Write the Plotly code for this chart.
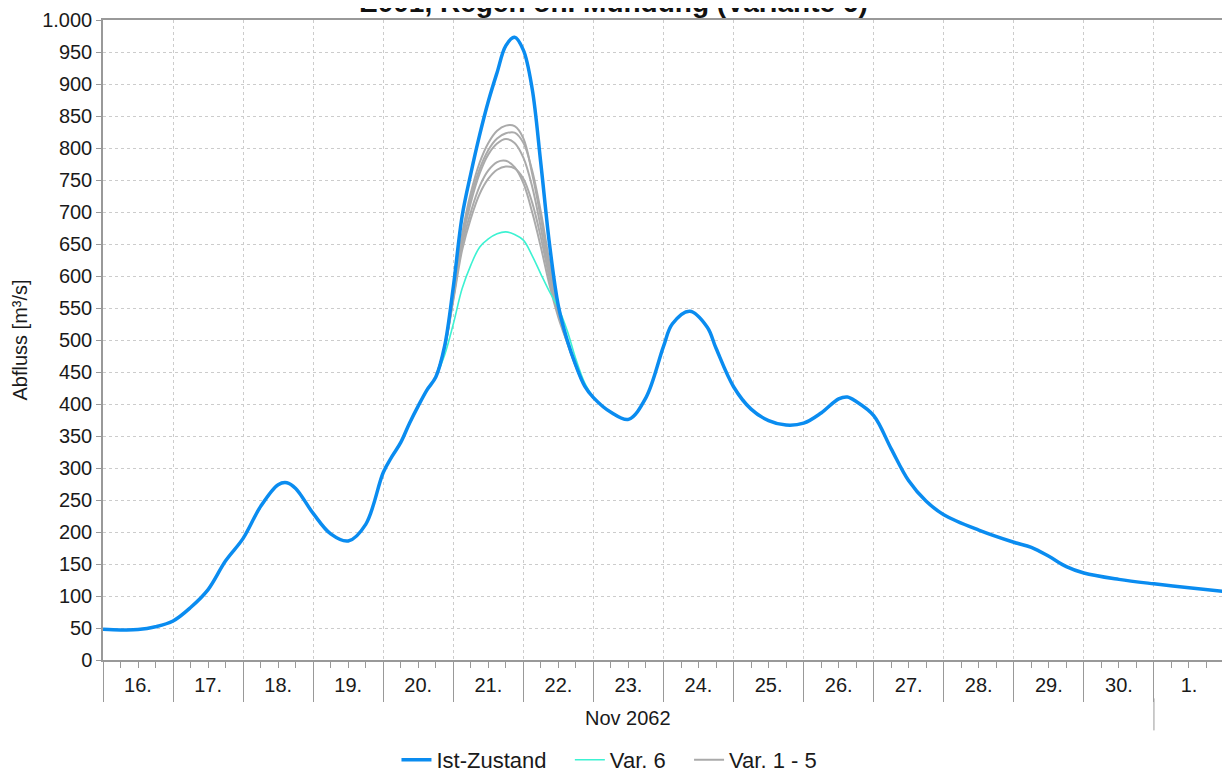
import pandas as pd
import plotly.graph_objects as go

# ---- data (day of November 2062, fractional; 32.0 = 2 Dec 00:00) ----
ist_days = [16.0, 16.25, 16.5, 16.75, 17.0, 17.25, 17.5, 17.75, 18.0, 18.25, 18.5, 18.625, 18.75,
            19.0, 19.25, 19.5, 19.75, 20.0, 20.125, 20.25, 20.375, 20.5, 20.625, 20.75, 20.875,
            21.0, 21.125, 21.25, 21.375, 21.5, 21.625, 21.75, 21.875, 22.0, 22.125, 22.25,
            22.375, 22.5, 22.625, 22.75, 22.875, 23.0, 23.25, 23.5, 23.75, 24.0, 24.125, 24.375,
            24.625, 24.75, 25.0, 25.25, 25.5, 25.75, 26.0, 26.25, 26.5, 26.625, 26.75, 27.0,
            27.25, 27.5, 27.75, 28.0, 28.5, 29.0, 29.25, 29.5, 29.75, 30.0, 30.5, 31.0, 31.5, 32.0]
ist_vals = [48, 47, 47.5, 52, 61, 82, 110, 155, 190, 240, 274, 277, 268,
            229, 197, 186, 212, 293, 318, 340, 370, 397, 422, 442, 490,
            583, 693, 760, 820, 873, 918, 960, 973, 953, 893, 775,
            648, 553, 500, 460, 428, 410, 387, 376, 410, 490, 525, 545,
            520, 487, 427, 392, 374, 367, 370, 386, 408, 411, 404, 382,
            330, 280, 248, 227, 203, 184, 176, 162, 146, 136, 126, 119, 113, 107]

var_days = [20.75, 20.875, 21.0, 21.125, 21.25, 21.375, 21.5, 21.625, 21.75, 21.875,
            22.0, 22.125, 22.25, 22.375, 22.5, 22.625, 22.75, 22.875, 23.0]
var6_vals = [442, 476, 525, 580, 617, 645, 658, 666, 669, 665,
             656, 632, 603, 575, 550, 515, 470, 433, 410]
var1_vals = [442, 488, 572, 665, 730, 777, 808, 827, 835, 834,
             815, 760, 690, 610, 545, 500, 460, 428, 410]
var2_vals = [442, 488, 570, 660, 722, 767, 797, 815, 823, 824,
             808, 765, 700, 620, 548, 500, 460, 428, 410]
var3_vals = [442, 488, 568, 655, 715, 760, 790, 807, 814, 808,
             785, 740, 675, 600, 540, 497, 459, 428, 410]
var4_vals = [442, 487, 565, 648, 700, 740, 765, 778, 780, 770,
             745, 700, 645, 585, 535, 496, 458, 428, 410]
var5_vals = [442, 487, 562, 640, 690, 728, 752, 766, 771, 768,
             752, 715, 660, 595, 540, 497, 459, 428, 410]
var15_sets = [var1_vals, var2_vals, var3_vals, var4_vals, var5_vals]

y_ticks = list(range(0, 1001, 50))
title_text = "E001, Regen oh. Mündung (Variante 6)"
month_label = "Nov 2062"
legend_names = ["Ist-Zustand", "Var. 6", "Var. 1 - 5"]

base = pd.Timestamp("2062-11-01")
def to_time(days):
    return [base + pd.Timedelta(days=d - 1) for d in days]

BLUE = "#0a8cf0"
CYAN = "#3cf2d2"
GREY = "#aaaaaa"
AXC = "#999999"
FONT = "Liberation Sans, Arial, sans-serif"
PAD = "\u00a0\u00a0\u00a0"

fig = go.Figure()
for i, vals in enumerate(var15_sets):
    fig.add_trace(go.Scatter(x=to_time(var_days), y=vals, mode="lines",
                             line=dict(color=GREY, width=2, shape="spline", smoothing=1),
                             name=legend_names[2], legendgroup="v15", showlegend=(i == 0),
                             legendrank=3))
fig.add_trace(go.Scatter(x=to_time(var_days), y=var6_vals, mode="lines",
                         line=dict(color=CYAN, width=1.6, shape="spline", smoothing=1),
                         name=legend_names[1] + PAD, legendrank=2))
fig.add_trace(go.Scatter(x=to_time(ist_days), y=ist_vals, mode="lines",
                         line=dict(color=BLUE, width=3.5, shape="spline", smoothing=1),
                         name=legend_names[0] + PAD, legendrank=1))

# margins compensate the page body's default 8px offset
fig.update_layout(
    width=1230, height=772,
    margin=dict(l=95, r=14, t=12, b=120),
    paper_bgcolor="white", plot_bgcolor="white",
    font=dict(family=FONT, size=20, color="#1a1a1a"),
    separators=",.",
    showlegend=True,
    legend=dict(orientation="h", xref="container", yref="container",
                x=0.489, xanchor="center", y=0.026, yanchor="middle",
                font=dict(size=22), itemwidth=30, traceorder="normal"),
)

fig.update_xaxes(
    type="date", automargin=False,
    range=[to_time([16.0])[0], to_time([32.0])[0]],
    dtick=86400000, tick0=to_time([16.0])[0],
    tickformat="%-d.", ticklabelmode="period",
    ticks="outside", ticklen=40, tickcolor=AXC, tickwidth=1,
    ticklabelstandoff=-34,
    showgrid=True, gridcolor="#cccccc", griddash="3px,3px", gridwidth=1,
    showline=True, linecolor=AXC, linewidth=1.5, mirror=True,
    minor=dict(dtick=6 * 3600 * 1000, ticks="outside", ticklen=6,
               tickcolor=AXC, showgrid=False),
    tickfont=dict(size=20),
)
fig.update_yaxes(
    automargin=False,
    range=[0, 1000], tickvals=y_ticks, tickformat=",d",
    ticks="outside", ticklen=5, tickcolor=AXC,
    showgrid=True, gridcolor="#cccccc", griddash="3px,3px", gridwidth=1,
    showline=True, linecolor=AXC, linewidth=1.5, mirror=True,
    title=dict(text="Abfluss [m³/s]", font=dict(size=20), standoff=9),
    tickfont=dict(size=20), zeroline=False,
)

# month label and month separator
fig.add_annotation(x=to_time([23.5])[0], xref="x", y=-0.09, yref="paper",
                   text=month_label, showarrow=False, font=dict(size=20),
                   xanchor="center", yanchor="middle")
fig.add_shape(type="line", xref="x", yref="paper",
              x0=to_time([31.0])[0], x1=to_time([31.0])[0], y0=-0.06, y1=-0.11,
              line=dict(color=AXC, width=1))
# title (partly cut off at top, as in reference)
fig.add_annotation(x=0.455, xref="paper", y=1.0266, yref="paper",
                   text="<b>" + title_text + "</b>", showarrow=False,
                   font=dict(size=28, color="#111111"),
                   xanchor="center", yanchor="middle")

fig.write_html("out.html")
